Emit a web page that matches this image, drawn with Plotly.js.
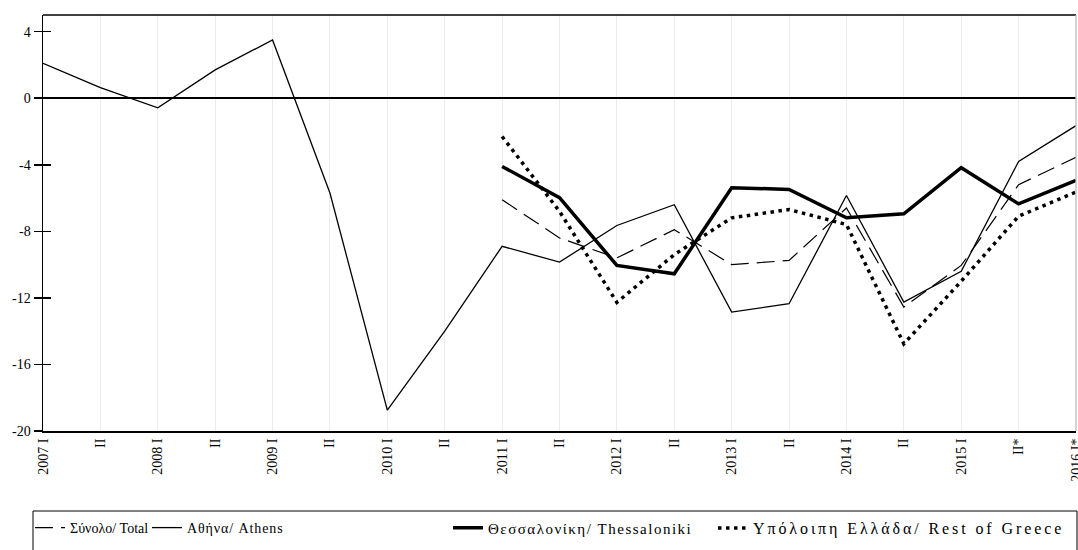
<!DOCTYPE html>
<html>
<head>
<meta charset="utf-8">
<script src="https://cdn.plot.ly/plotly-3.0.1.min.js"></script>
<style>html,body{margin:0;padding:0;background:#fff;}#chart{width:1078px;height:550px;}</style>
</head>
<body>
<div id="chart"></div>
<script>
// Period tick labels (half-years)
var tickLabels = ["2007 I","II","2008 I","II","2009 I","II","2010 I","II","2011 I","II","2012 I","II","2013 I","II","2014 I","II","2015 I","II*","2016 I*"];
// Y tick values / labels
var yTickVals = [4, 0, -4, -8, -12, -16, -20];
var yTickText = ["4", "0", "-4", "-8", "-12", "-16", "-20"];

// Series values (%), null where not available
var total        = [null,null,null,null,null,null,null,null,-6.1,-8.4,-9.6,-7.9,-10.0,-9.75,-6.6,-12.55,-10.05,-5.2,-3.55];
var athens       = [2.1,0.63,-0.58,1.7,3.5,-5.7,-18.75,-14.0,-8.9,-9.85,-7.65,-6.4,-12.85,-12.35,-5.85,-12.25,-10.4,-3.8,-1.65];
var thessaloniki = [null,null,null,null,null,null,null,null,-4.1,-5.98,-10.05,-10.55,-5.38,-5.48,-7.19,-6.95,-4.18,-6.35,-4.94];
var restGreece   = [null,null,null,null,null,null,null,null,-2.3,-6.8,-12.27,-9.4,-7.19,-6.69,-7.59,-14.76,-11.0,-7.09,-5.64];

var names = ["Σύνολο/ Total","Αθήνα/ Athens","Θεσσαλονίκη/ Thessaloniki","Υπόλοιπη Ελλάδα/ Rest of Greece"];

var xIdx = tickLabels.map(function(_, i){ return i; });
var FONT = "'Liberation Serif', 'DejaVu Serif', serif";

function spaced(txt, ls){ return ls ? '<span style="letter-spacing:' + ls + 'px">' + txt + '</span>' : txt; }

var traces = [
  {x: xIdx, y: total, name: spaced(names[0], 0), mode: "lines", line: {color: "#000", width: 1.2, dash: "18px,8px"}, legend: "legend"},
  {x: xIdx, y: athens, name: spaced(names[1], 0.9), mode: "lines", line: {color: "#000", width: 1.3}, legend: "legend2"},
  {x: xIdx, y: thessaloniki, name: spaced(names[2], 1.5), mode: "lines", line: {color: "#000", width: 3.5}, legend: "legend3"},
  {x: xIdx, y: restGreece, name: spaced(names[3], 2.9), mode: "lines", line: {color: "#000", width: 3.5, dash: "3.5px,4.5px"}, legend: "legend4"},
  {x: [], y: [], yaxis: "y2", showlegend: false, hoverinfo: "skip"}
];

var plotL = 43, plotR = 1076, plotT = 15, plotB = 431;
var W = 1078, H = 550;
function px2x(p){ return (p - plotL) / (plotR - plotL); }
function px2y(p){ return (plotB - p) / (plotB - plotT); }

var legendY = px2y(528);
function leg(xpx, size){
  return {x: px2x(xpx), xanchor: "left", y: legendY, yanchor: "middle", orientation: "h",
          bgcolor: "rgba(0,0,0,0)", borderwidth: 0, font: {family: FONT, size: size, color: "#000"}};
}

var layout = {
  width: W, height: H,
  margin: {l: plotL, r: W - plotR, t: plotT, b: H - plotB, pad: 0},
  paper_bgcolor: "#fff", plot_bgcolor: "#fff",
  font: {family: FONT, size: 14, color: "#000"},
  xaxis: {
    range: [0, tickLabels.length - 1],
    tickmode: "array", tickvals: xIdx, ticktext: tickLabels,
    tickangle: -90, ticks: "", ticklen: 0,
    ticklabeloverflow: "allow",
    showgrid: true, gridcolor: "#ececec", gridwidth: 1,
    showline: true, linecolor: "#000", linewidth: 2, mirror: false,
    zeroline: false, automargin: false,
    tickfont: {family: FONT, size: 14, color: "#000"}
  },
  yaxis: {
    range: [-20, 5], tickmode: "array", tickvals: yTickVals, ticktext: yTickText,
    ticks: "outside", ticklen: 8, tickwidth: 1.5, tickcolor: "#000",
    showgrid: false,
    showline: true, linecolor: "#000", linewidth: 1.5, mirror: false,
    zeroline: true, zerolinecolor: "#000", zerolinewidth: 1.5,
    automargin: false,
    tickfont: {family: FONT, size: 14, color: "#000"}
  },
  yaxis2: {
    overlaying: "y", matches: "y", side: "left",
    range: [-20, 5], tickmode: "array", tickvals: yTickVals,
    ticks: "inside", ticklen: 8, tickwidth: 1.5, tickcolor: "#000",
    showticklabels: false, showgrid: false, showline: false, zeroline: false
  },
  showlegend: true,
  legend: leg(30, 14),
  legend2: leg(147, 14),
  legend3: leg(448, 15),
  legend4: leg(713, 16),
  shapes: [
    {type: "line", xref: "paper", yref: "paper", x0: 0, x1: 1, y0: 1, y1: 1,
     line: {color: "#000", width: 1.3}},
    {type: "line", xref: "paper", yref: "paper", x0: 1, x1: 1, y0: 0, y1: 1,
     line: {color: "#bdbdbd", width: 1.3}},
    {type: "rect", xref: "paper", yref: "paper",
     x0: px2x(33), x1: px2x(1077), y0: px2y(511), y1: px2y(575),
     line: {color: "#000", width: 1}, fillcolor: "rgba(0,0,0,0)"}
  ]
};

Plotly.newPlot("chart", traces, layout, {displayModeBar: false, staticPlot: true});
</script>
</body>
</html>
